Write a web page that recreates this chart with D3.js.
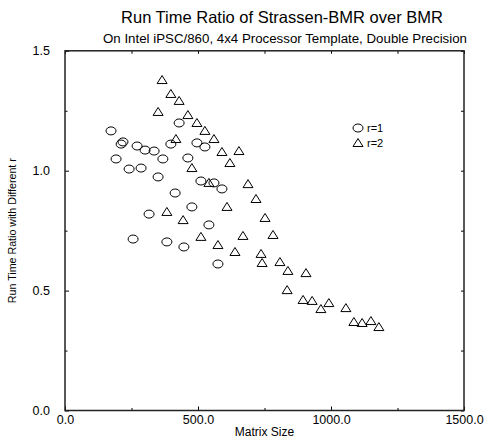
<!DOCTYPE html>
<html>
<head>
<meta charset="utf-8">
<script src="https://cdn.jsdelivr.net/npm/d3@7"></script>
<style>
  body { margin: 0; background: #fff; }
  text { font-family: "Liberation Sans", Arial, sans-serif; fill: #000; }
</style>
</head>
<body>
<script>
// r=1 points: matrix size, run time ratio
const r1Size  = [173, 218, 211, 271, 301, 335, 192, 241, 286, 350, 368, 398, 429, 414, 316, 256, 383, 447,
                 496, 526, 462, 511, 560, 590, 477, 541, 575];
const r1Ratio = [1.166, 1.120, 1.111, 1.103, 1.086, 1.082, 1.049, 1.007, 1.011, 0.974, 1.049, 1.111, 1.199, 0.907, 0.819, 0.715, 0.703, 0.682,
                 1.116, 1.099, 1.053, 0.957, 0.949, 0.924, 0.849, 0.774, 0.611];

// r=2 points
const r2Size  = [365, 398, 429, 350, 462, 496, 526, 417, 560, 590, 654, 620, 477, 541, 688, 718, 609, 383, 444, 752,
                 511, 669, 782, 575, 639, 737, 741, 808, 838, 906, 835, 895, 929, 962, 992, 1056, 1086, 1117, 1150, 1180];
const r2Ratio = [1.378, 1.320, 1.291, 1.245, 1.232, 1.199, 1.166, 1.132, 1.132, 1.078, 1.082, 1.032, 1.011, 0.949, 0.944, 0.882, 0.849, 0.828, 0.794, 0.803,
                 0.724, 0.728, 0.732, 0.690, 0.661, 0.653, 0.615, 0.619, 0.582, 0.573, 0.502, 0.461, 0.457, 0.423, 0.448, 0.427, 0.369, 0.365, 0.373, 0.348];

const xMajor = [0, 500, 1000, 1500];
const xMinor = [250, 750, 1250];
const yMajor = [0, 0.5, 1.0, 1.5];
const yMinor = [0.25, 0.75, 1.25];

const width = 487;
const height = 441;
const margin = { top: 50.8, right: 23, bottom: 30.5, left: 65 };

const svg = d3.select('body')
  .append('svg')
  .attr('width', width)
  .attr('height', height);

const xScale = d3.scaleLinear()
  .domain([0, 1500])
  .range([margin.left, width - margin.right]);

const yScale = d3.scaleLinear()
  .domain([0, 1.5])
  .range([height - margin.bottom, margin.top]);

const fmt = d3.format('.1f');

// titles
svg.append('text')
  .attr('x', 282)
  .attr('y', 23)
  .style('text-anchor', 'middle')
  .style('font-size', '16.5px')
  .text('Run Time Ratio of Strassen-BMR over BMR');

svg.append('text')
  .attr('x', 285)
  .attr('y', 43)
  .style('text-anchor', 'middle')
  .style('font-size', '12px')
  .attr('textLength', 364)
  .attr('lengthAdjust', 'spacingAndGlyphs')
  .text('On Intel iPSC/860, 4x4 Processor Template, Double Precision');

// axes, ticks point inward
const x0 = yScale(0), y0 = xScale(0);
const x1 = yScale(1.5), y1 = xScale(1500);

svg.append('g')
  .attr('transform', `translate(0, ${x0})`)
  .call(d3.axisBottom(xScale).tickValues(xMajor).tickSizeInner(-4).tickSizeOuter(0).tickPadding(5).tickFormat(fmt))
  .call(g => g.select('.domain').remove());
svg.append('g')
  .attr('transform', `translate(0, ${x0})`)
  .call(d3.axisBottom(xScale).tickValues(xMinor).tickSizeInner(-2.5).tickSizeOuter(0).tickFormat(''))
  .call(g => g.select('.domain').remove());
svg.append('g')
  .attr('transform', `translate(0, ${x1})`)
  .call(d3.axisTop(xScale).tickValues(xMajor.concat(xMinor)).tickSizeInner(-3).tickSizeOuter(0).tickFormat(''))
  .call(g => g.select('.domain').remove());

svg.append('g')
  .attr('transform', `translate(${y0}, 0)`)
  .call(d3.axisLeft(yScale).tickValues(yMajor).tickSizeInner(-4).tickSizeOuter(0).tickPadding(15).tickFormat(fmt))
  .call(g => g.select('.domain').remove());
svg.append('g')
  .attr('transform', `translate(${y0}, 0)`)
  .call(d3.axisLeft(yScale).tickValues(yMinor).tickSizeInner(-2.5).tickSizeOuter(0).tickFormat(''))
  .call(g => g.select('.domain').remove());
svg.append('g')
  .attr('transform', `translate(${y1}, 0)`)
  .call(d3.axisRight(yScale).tickValues(yMajor.concat(yMinor)).tickSizeInner(-3).tickSizeOuter(0).tickFormat(''))
  .call(g => g.select('.domain').remove());

svg.selectAll('.tick text')
  .style('font-size', '12.5px')
  .style('font-family', '"Liberation Sans", Arial, sans-serif')
  .attr('fill', '#000');
svg.selectAll('.tick line').attr('stroke', '#000');

svg.append('rect')
  .attr('x', y0)
  .attr('y', x1)
  .attr('width', y1 - y0)
  .attr('height', x0 - x1)
  .attr('fill', 'none')
  .attr('stroke', '#222')
  .attr('stroke-width', 1.5);

// axis labels
svg.append('text')
  .attr('x', xScale(750))
  .attr('y', 436)
  .style('text-anchor', 'middle')
  .style('font-size', '12px')
  .text('Matrix Size');

svg.append('text')
  .attr('transform', `translate(16, ${yScale(0.75)}) rotate(-90)`)
  .style('text-anchor', 'middle')
  .style('font-size', '11px')
  .attr('textLength', 145)
  .attr('lengthAdjust', 'spacingAndGlyphs')
  .text('Run Time Ratio with Different r');

// markers
const r1 = r1Size.map((s, i) => ({ size: s, ratio: r1Ratio[i] }));
const r2 = r2Size.map((s, i) => ({ size: s, ratio: r2Ratio[i] }));

const tri = 'M0,-4.5L5,3.5L-5,3.5Z';

svg.selectAll('.r1').data(r1)
  .enter()
  .append('ellipse')
  .attr('class', 'r1')
  .attr('cx', d => xScale(d.size))
  .attr('cy', d => yScale(d.ratio))
  .attr('rx', 5)
  .attr('ry', 4)
  .attr('fill', 'none')
  .attr('stroke', '#000')
  .attr('stroke-width', 1);

svg.selectAll('.r2').data(r2)
  .enter()
  .append('path')
  .attr('class', 'r2')
  .attr('d', tri)
  .attr('transform', d => `translate(${xScale(d.size)}, ${yScale(d.ratio)})`)
  .attr('fill', 'none')
  .attr('stroke', '#000')
  .attr('stroke-width', 1);

// legend
const legend = svg.append('g').attr('transform', 'translate(358, 128)');
legend.append('ellipse')
  .attr('rx', 5).attr('ry', 4)
  .attr('fill', 'none').attr('stroke', '#000');
legend.append('text')
  .attr('x', 9).attr('y', 4)
  .style('font-size', '11px')
  .text('r=1');
legend.append('path')
  .attr('d', tri)
  .attr('transform', 'translate(0, 15)')
  .attr('fill', 'none').attr('stroke', '#000');
legend.append('text')
  .attr('x', 9).attr('y', 19)
  .style('font-size', '11px')
  .text('r=2');
</script>
</body>
</html>
